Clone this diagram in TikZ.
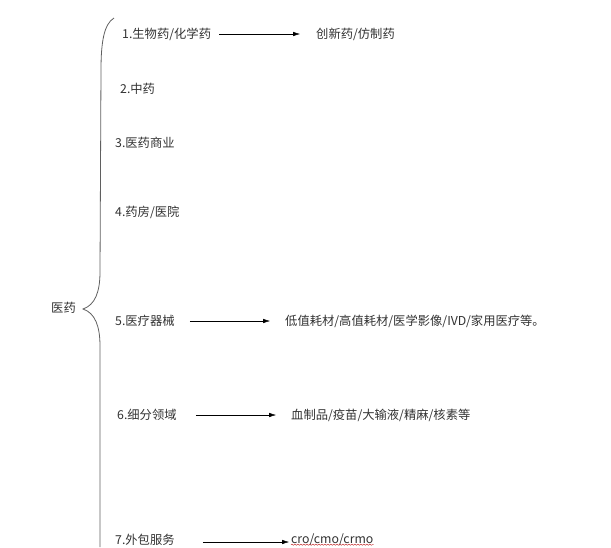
\documentclass[tikz,border=0pt]{standalone}
\usepackage{fontspec}
\setmainfont{Noto Sans CJK SC}
\usetikzlibrary{arrows.meta,decorations.pathmorphing,positioning}
\definecolor{mdtext}{RGB}{50,50,50}
\definecolor{mdline}{RGB}{95,95,95}
\definecolor{mdwave}{RGB}{200,60,60}

\begin{document}
\begin{tikzpicture}[
    x=1pt, y=-1pt,
    >={Latex[length=7pt,width=4.5pt]},
    item/.style={anchor=west, inner sep=0pt, font=\fontsize{12.3}{14}\selectfont, text=mdtext},
    target/.style={item},
    link/.style={->, thin, black},
    brace/.style={draw=mdline, line width=0.8pt}
]
\useasboundingbox (0,0) rectangle (611,547);

% Root label and the big curly brace on its right.
\node[item] (root) at (51,308) {医药};
\coordinate (tip) at (83,309);
\draw[brace] (114,18) .. controls (104,24) and (101,42) .. (101,70)
    -- (100,272) .. controls (100,292) and (95,305) .. (tip)
    .. controls (95,313) and (100,326) .. (100,346) -- (100,547);

% The seven branches of the brace.
\foreach \i/\x/\y/\txt in {
    1/122/34/{1.生物药/化学药},
    2/120/89/{2.中药},
    3/115/143/{3.医药商业},
    4/115/212/{4.药房/医院},
    5/115/321/{5.医疗器械},
    6/117/415/{6.细分领域},
    7/115/540/{7.外包服务}
} {
    \node[item] (I\i) at (\x,\y) {\txt};
}

% Details reached by an arrow.
\node[target] (T1) at (316,34) {创新药/仿制药};
\node[target] (T5) at (285,321) {低值耗材/高值耗材/医学影像/IVD/家用医疗等。};
\node[target] (T6) at (291,415) {血制品/疫苗/大输液/精麻/核素等};
\node[target] (T7) at (291,540) {cro/cmo/crmo};

\draw[link] ([xshift=8pt]I1.east) -- ([xshift=-16pt]T1.west);
\draw[link] ([xshift=15pt]I5.east) -- ([xshift=-15pt]T5.west);
\draw[link] ([xshift=19pt]I6.east) -- ([xshift=-15pt]T6.west);
\draw[link] ([xshift=28pt,yshift=-2pt]I7.east) -- ([xshift=-2pt,yshift=-2pt]T7.west);

% Spell-check squiggle under the outsourcing terms.
\draw[mdwave, line width=0.5pt, decorate,
      decoration={snake, amplitude=0.6pt, segment length=3pt}]
    ([yshift=1.5pt]T7.south west) -- ([yshift=1.5pt]T7.south east);

\end{tikzpicture}
\end{document}
